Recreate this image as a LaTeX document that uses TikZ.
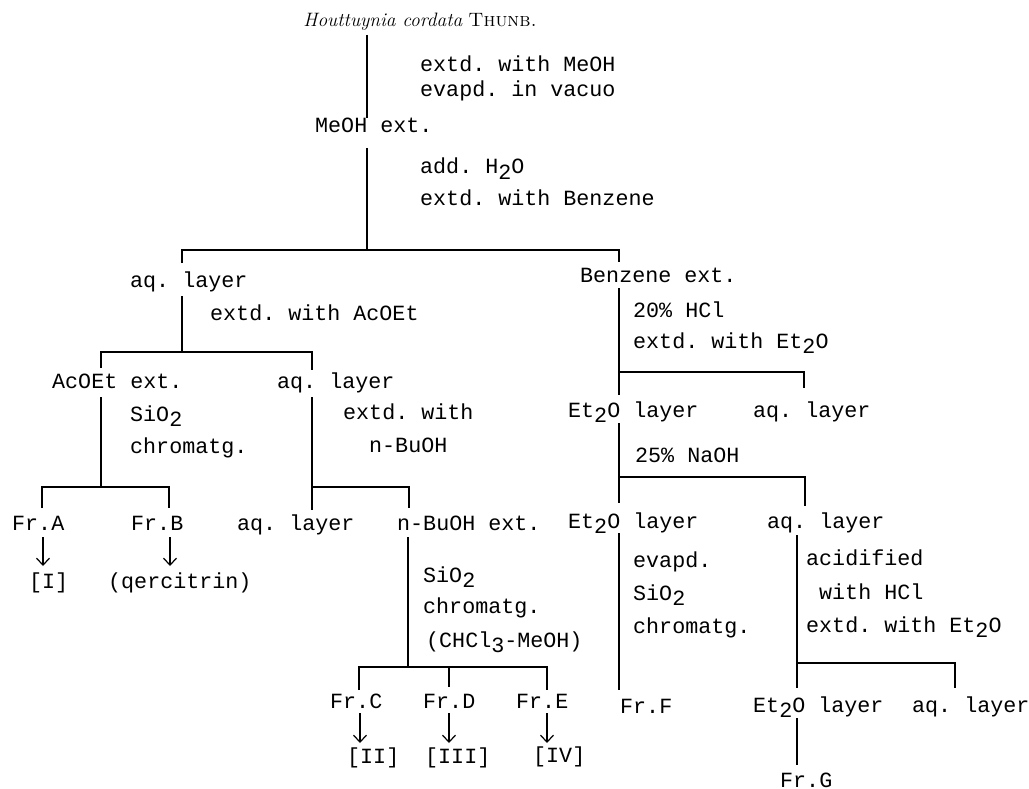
\documentclass[tikz,border=0pt]{standalone}
\usepackage{fontspec}
\newfontfamily\tw{Liberation Mono}
\usetikzlibrary{arrows.meta}
\newcommand{\lo}[1]{\raisebox{-0.27em}{#1}}
\frenchspacing
\begin{document}
\begin{tikzpicture}[x=1pt,y=-1pt,
  t/.style={anchor=base west,inner sep=0pt,font=\tw\fontsize{21.7}{24}\selectfont\frenchspacing},
  ttl/.style={anchor=base east,inner sep=0pt,font=\fontsize{19.4}{22}\selectfont},
  ln/.style={line width=1.7pt},
  arr/.style={line width=1.2pt,-{Straight Barb[length=7pt,width=13pt,line width=1.2pt]}}]
\useasboundingbox (0,0) rectangle (1029,789);
% texts
\node[ttl] (title) at (537,27) {\textit{Houttuynia cordata} \textsc{Thunb.}};
\node[t] (s1a) at (420,72) {extd. with MeOH};
\node[t] (s1b) at (420,97) {evapd. in vacuo};
\node[t] (meoh) at (315,133) {MeOH ext.};
\node[t] (s2a) at (420,174) {add. H\lo{2}O};
\node[t] (s2b) at (420,205) {extd. with Benzene};
\node[t] (aq1) at (130,287) {aq. layer};
\node[t] (s3) at (210,320) {extd. with AcOEt};
\node[t] (acoet) at (52,388) {AcOEt ext.};
\node[t] (aq2) at (277,388) {aq. layer};
\node[t] (s4a) at (130,421) {SiO\lo{2}};
\node[t] (s4b) at (130,453) {chromatg.};
\node[t] (s5a) at (343,419) {extd. with};
\node[t] (s5b) at (369,452) {n-BuOH};
\node[t] (frA) at (12,530) {Fr.A};
\node[t] (frB) at (131,530) {Fr.B};
\node[t] (aq3) at (237,530) {aq. layer};
\node[t] (buoh) at (397,530) {n-BuOH ext.};
\node[t] (I) at (29,588) {[I]};
\node[t] (querc) at (108,588) {(qercitrin)};
\node[t] (s6a) at (423,582) {SiO\lo{2}};
\node[t] (s6b) at (423,613) {chromatg.};
\node[t] (s6c) at (426,647) {(CHCl\lo{3}-MeOH)};
\node[t] (frC) at (330,708) {Fr.C};
\node[t] (frD) at (423,708) {Fr.D};
\node[t] (frE) at (516,708) {Fr.E};
\node[t] (II) at (347,763) {[II]};
\node[t] (III) at (425,763) {[III]};
\node[t] (IV) at (533,762) {[IV]};
\node[t] (benz) at (580,282) {Benzene ext.};
\node[t] (s7a) at (633,317) {20\% HCl};
\node[t] (s7b) at (633,348) {extd. with Et\lo{2}O};
\node[t] (et1) at (568,417) {Et\lo{2}O layer};
\node[t] (aq4) at (753,417) {aq. layer};
\node[t] (s8) at (635,462) {25\% NaOH};
\node[t] (et2) at (568,528) {Et\lo{2}O layer};
\node[t] (aq5) at (767,528) {aq. layer};
\node[t] (s9a) at (633,567) {evapd.};
\node[t] (s9b) at (633,600) {SiO\lo{2}};
\node[t] (s9c) at (633,633) {chromatg.};
\node[t] (frF) at (620,713) {Fr.F};
\node[t] (s10a) at (806,565) {acidified};
\node[t] (s10b) at (819,599) {with HCl};
\node[t] (s10c) at (806,632) {extd. with Et\lo{2}O};
\node[t] (et3) at (753,712) {Et\lo{2}O layer};
\node[t] (aq6) at (912,712) {aq. layer};
\node[t] (frG) at (780,787) {Fr.G};
% junction coordinates
\coordinate (a1) at (367,35);  \coordinate (a2) at (367,118);
\coordinate (b1) at (367,148); \coordinate (b2) at (367,250);
\coordinate (bL) at (182,250); \coordinate (bR) at (619,250);
\coordinate (bLd) at (182,263); \coordinate (bRd) at (619,262);
\coordinate (c1) at (182,296); \coordinate (c2) at (182,352);
\coordinate (cL) at (101,352); \coordinate (cR) at (312,352);
\coordinate (cLd) at (101,368); \coordinate (cRd) at (312,370);
\coordinate (d1) at (101,397); \coordinate (d2) at (101,487);
\coordinate (dL) at (42,487); \coordinate (dR) at (169,487);
\coordinate (dLd) at (42,508); \coordinate (dRd) at (169,508);
\coordinate (e1) at (312,397); \coordinate (e2) at (312,510);
\coordinate (e3) at (312,487); \coordinate (eR) at (409,487);
\coordinate (eRd) at (409,508);
\coordinate (f1) at (408,537); \coordinate (f2) at (408,667);
\coordinate (fL) at (359,667); \coordinate (fR) at (547,667);
\coordinate (fM) at (449,667);
\coordinate (fLd) at (359,690); \coordinate (fMd) at (449,687);
\coordinate (fRd) at (547,690);
\coordinate (g1) at (619,288); \coordinate (g2) at (619,395);
\coordinate (g3) at (619,372); \coordinate (gR) at (804,372);
\coordinate (gRd) at (804,388);
\coordinate (h1) at (619,423); \coordinate (h2) at (619,503);
\coordinate (h3) at (619,477); \coordinate (hR) at (805,477);
\coordinate (hRd) at (805,506);
\coordinate (i1) at (619,533); \coordinate (i2) at (619,690);
\coordinate (k1) at (797,535); \coordinate (k2) at (797,688);
\coordinate (k3) at (797,663); \coordinate (kR) at (955,663);
\coordinate (kRd) at (955,688);
\coordinate (m1) at (797,718); \coordinate (m2) at (797,765);
\coordinate (pA1) at (43,537);  \coordinate (pA2) at (43,566);
\coordinate (pB1) at (170,537); \coordinate (pB2) at (170,566);
\coordinate (pC1) at (360,713); \coordinate (pC2) at (360,743);
\coordinate (pD1) at (449,713); \coordinate (pD2) at (449,743);
\coordinate (pE1) at (547,713); \coordinate (pE2) at (547,743);
% connectors
\draw[ln] (a1) -- (a2);
\draw[ln] (b1) -- (b2);
\draw[ln] (bLd) -- (bL) -- (bR) -- (bRd);
\draw[ln] (c1) -- (c2);
\draw[ln] (cLd) -- (cL) -- (cR) -- (cRd);
\draw[ln] (d1) -- (d2);
\draw[ln] (dLd) -- (dL) -- (dR) -- (dRd);
\draw[ln] (e1) -- (e2);
\draw[ln] (e3) -- (eR) -- (eRd);
\draw[ln] (f1) -- (f2);
\draw[ln] (fLd) -- (fL) -- (fR) -- (fRd);
\draw[ln] (fM) -- (fMd);
\draw[ln] (g1) -- (g2);
\draw[ln] (g3) -- (gR) -- (gRd);
\draw[ln] (h1) -- (h2);
\draw[ln] (h3) -- (hR) -- (hRd);
\draw[ln] (i1) -- (i2);
\draw[ln] (k1) -- (k2);
\draw[ln] (k3) -- (kR) -- (kRd);
\draw[ln] (m1) -- (m2);
\draw[arr] (pA1) -- (pA2);
\draw[arr] (pB1) -- (pB2);
\draw[arr] (pC1) -- (pC2);
\draw[arr] (pD1) -- (pD2);
\draw[arr] (pE1) -- (pE2);
\end{tikzpicture}
\end{document}
